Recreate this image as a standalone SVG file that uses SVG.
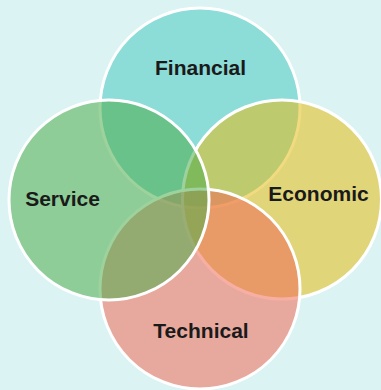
<svg xmlns="http://www.w3.org/2000/svg" width="381" height="390" viewBox="0 0 381 390">
<style>
.c{stroke:#ffffff;stroke-width:3;fill-opacity:0.55}
.t{font-family:"Liberation Sans",Arial,sans-serif;font-weight:bold;font-size:21px;fill:#1a1a1a;text-anchor:middle}
</style>
<rect width="381" height="390" fill="#dcf3f3"/>
<g id="financial"><circle class="c" cx="200" cy="108" r="100" fill="#4ac8c1"/></g>
<g id="economic"><circle class="c" cx="282" cy="199.5" r="99.5" fill="#e6bc16"/></g>
<g id="technical"><circle class="c" cx="200" cy="289" r="100" fill="#f16c58"/></g>
<g id="service"><circle class="c" cx="109" cy="200" r="100" fill="#4ead4d"/></g>
<g id="labels">
<text class="t" x="200.5" y="75">Financial</text>
<text class="t" x="62.5" y="206">Service</text>
<text class="t" x="318.5" y="201">Economic</text>
<text class="t" x="201" y="338">Technical</text>
</g>
<g id="connectors"/>
</svg>
